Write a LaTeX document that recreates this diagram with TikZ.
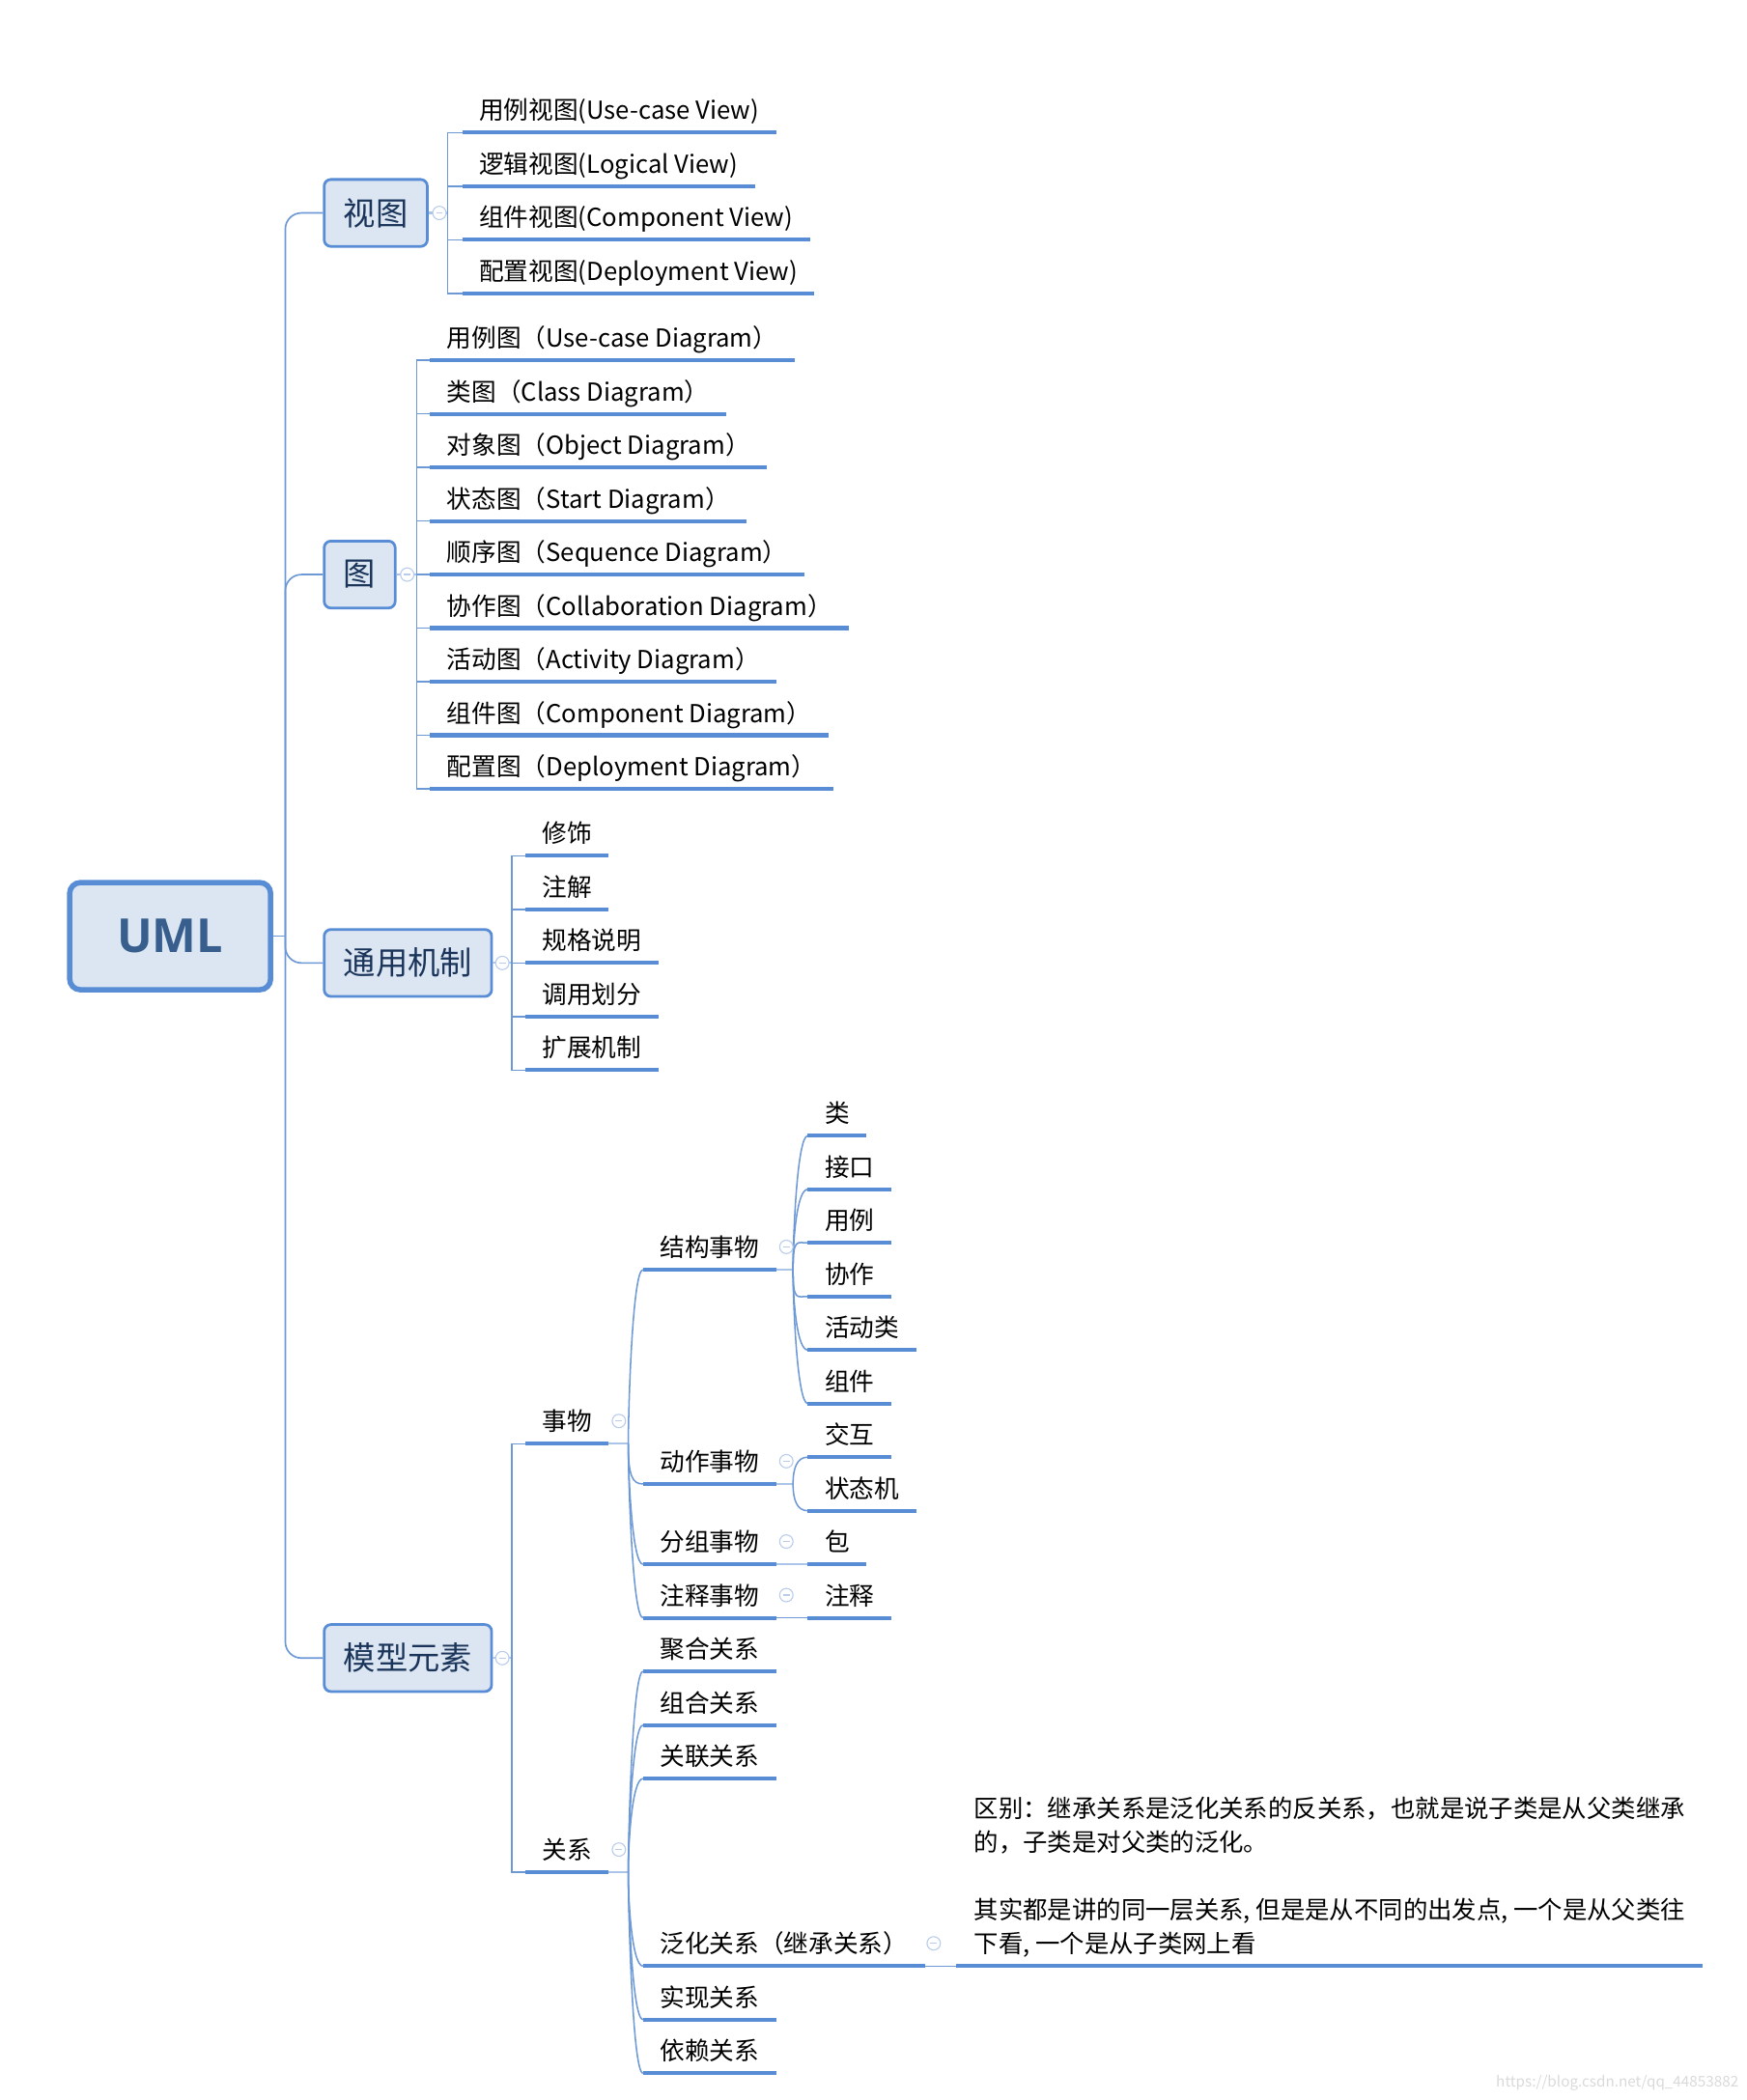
\documentclass[tikz,border=0pt]{standalone}
\usepackage{fontspec}
\setmainfont{Noto Sans CJK SC}
\newfontfamily\umlfont{Open Sans}
\usetikzlibrary{positioning}
\definecolor{lineblue}{RGB}{88,140,212}
\definecolor{twigblue}{RGB}{108,152,214}
\definecolor{stubblue}{RGB}{170,196,234}
\definecolor{boxfill}{RGB}{220,230,242}
\definecolor{boxtext}{RGB}{26,52,90}
\definecolor{umltext}{RGB}{56,94,142}
\definecolor{foldline}{RGB}{186,204,236}
\tikzset{
  root/.style={draw=lineblue, fill=boxfill, line width=4pt, rounded corners=8pt,
    minimum width=150pt, minimum height=80pt, text=umltext,
    font=\umlfont\bfseries\fontsize{35}{42}\selectfont},
  topic/.style={anchor=west, draw=lineblue, fill=boxfill, line width=2pt,
    rounded corners=5pt, minimum height=50pt, inner xsep=14.5pt, text=boxtext,
    font=\fontsize{24}{28}\selectfont},
  leaf/.style={anchor=south west, inner xsep=12.5pt, inner ysep=4.5pt,
    text height=15pt, text depth=5pt, font=\fontsize{18.5}{22}\selectfont},
  uline/.style={draw=lineblue, line width=3pt},
  trunk/.style={draw=twigblue, line width=1.2pt, rounded corners=12pt},
  twig/.style={draw=twigblue, line width=1.1pt},
  stub/.style={draw=stubblue, line width=1.6pt},
  fold/.style={circle, draw=foldline, fill=white, line width=0.8pt,
    minimum size=10pt, inner sep=0pt,
    path picture={\draw[foldline, line width=1pt]
      ([xshift=-2.5pt]path picture bounding box.center) --
      ([xshift=2.5pt]path picture bounding box.center);}},
  note/.style={anchor=south west, align=left, inner xsep=13pt, inner ysep=2pt,
    font=\fontsize{18.3}{25.2}\selectfont},
  wmark/.style={anchor=east, text=black!15, inner sep=0pt,
    font=\fontsize{11}{13}\selectfont}
}
\begin{document}
\begin{tikzpicture}[x=1pt,y=-1pt]
\useasboundingbox (0,0) rectangle (1304,1568);
%
% root and the four topics
\node[root] (uml) at (127,699) {UML};
\node[topic] (view) at (241,159) {视图};
\node[topic] (diag) at (241,429) {图};
\node[topic] (mech) at (241,719) {通用机制};
\node[topic] (model) at (241,1238) {模型元素};
\coordinate (hub) at (213,699);
\draw[trunk] (uml.east) -- (hub);
\foreach \t in {view,diag,mech,model}{
  \draw[trunk] (hub) |- (\t.west);
}
%
% views
\def\viewitems {vuse/99/{用例视图(Use-case View)}, vlog/139/{逻辑视图(Logical View)},
  vcmp/179/{组件视图(Component View)}, vdep/219/{配置视图(Deployment View)}}
\coordinate (vj) at (334,159);
\draw[stub] (view.east) -- (vj);
\foreach \name/\y/\txt in \viewitems{
  \node[leaf] (\name) at (345,\y) {\txt};
  \draw[twig] (vj) |- (\name.south west);
  \draw[uline] (\name.south west) -- (\name.south east);
}
%
% diagrams
\def\diagitems {duse/269/{用例图（Use-case Diagram）}, dcls/309/{类图（Class Diagram）},
  dobj/349/{对象图（Object Diagram）}, dsta/389/{状态图（Start Diagram）},
  dseq/429/{顺序图（Sequence Diagram）}, dcol/469/{协作图（Collaboration Diagram）},
  dact/509/{活动图（Activity Diagram）}, dcmp/549/{组件图（Component Diagram）},
  ddep/589/{配置图（Deployment Diagram）}}
\coordinate (dj) at (311,429);
\draw[stub] (diag.east) -- (dj);
\foreach \name/\y/\txt in \diagitems{
  \node[leaf] (\name) at (321,\y) {\txt};
  \draw[twig] (dj) |- (\name.south west);
  \draw[uline] (\name.south west) -- (\name.south east);
}
%
% common mechanisms
\def\mechitems {madorn/639/修饰, mnote/679/注解, mspec/719/规格说明,
  mdiv/759/调用划分, mext/799/扩展机制}
\coordinate (mj) at (382,719);
\draw[stub] (mech.east) -- (mj);
\foreach \name/\y/\txt in \mechitems{
  \node[leaf] (\name) at (392,\y) {\txt};
  \draw[twig] (mj) |- (\name.south west);
  \draw[uline] (\name.south west) -- (\name.south east);
}
%
% model elements: things and relations
\coordinate (ej) at (382,1238);
\draw[stub] (model.east) -- (ej);
\foreach \name/\y/\txt in {thing/1078/事物, rel/1398/关系}{
  \node[leaf] (\name) at (392,\y) {\txt};
  \draw[twig] (ej) |- (\name.south west);
  \draw[uline] (\name.south west) -- (\name.south east);
}
% kinds of things, curved branches
\coordinate (tj) at (469,1078);
\draw[stub] (thing.south east) -- (tj);
\foreach \name/\y/\txt in {struct/948/结构事物, act/1108/动作事物,
    grp/1168/分组事物, ann/1208/注释事物}{
  \pgfmathsetmacro\dir{\y<1078 ? 90 : -90}
  \node[leaf] (\name) at (480,\y) {\txt};
  \draw[twig] (tj) to[out=\dir, in=180, out distance=24, in distance=8] (\name.south west);
  \draw[uline] (\name.south west) -- (\name.south east);
}
\coordinate (sj) at (592,948);
\draw[stub] (struct.south east) -- (sj);
\foreach \name/\y/\txt in {scls/848/类, sint/888/接口, suse/928/用例,
    scol/968/协作, sact/1008/活动类, scmp/1048/组件}{
  \pgfmathsetmacro\dir{\y<948 ? 90 : -90}
  \node[leaf] (\name) at (603,\y) {\txt};
  \draw[twig] (sj) to[out=\dir, in=180, out distance=24, in distance=8] (\name.south west);
  \draw[uline] (\name.south west) -- (\name.south east);
}
\coordinate (aj) at (592,1108);
\draw[stub] (act.south east) -- (aj);
\foreach \name/\y/\txt in {aint/1088/交互, asm/1128/状态机}{
  \pgfmathsetmacro\dir{\y<1108 ? 90 : -90}
  \node[leaf] (\name) at (603,\y) {\txt};
  \draw[twig] (aj) to[out=\dir, in=180, out distance=12, in distance=8] (\name.south west);
  \draw[uline] (\name.south west) -- (\name.south east);
}
\node[leaf] (pkg) at (603,1168) {包};
\draw[uline] (pkg.south west) -- (pkg.south east);
\draw[stub] (grp.south east) -- (pkg.south west);
\node[leaf] (cmt) at (603,1208) {注释};
\draw[uline] (cmt.south west) -- (cmt.south east);
\draw[twig] (ann.south east) -- (cmt.south west);
% kinds of relations
\coordinate (rj) at (469,1398);
\draw[stub] (rel.south east) -- (rj);
\foreach \name/\y/\txt in {ragg/1248/聚合关系, rcmp/1288/组合关系, rass/1328/关联关系,
    rgen/1468/泛化关系（继承关系）, rrea/1508/实现关系, rdep/1548/依赖关系}{
  \pgfmathsetmacro\dir{\y<1398 ? 90 : -90}
  \node[leaf] (\name) at (480,\y) {\txt};
  \draw[twig] (rj) to[out=\dir, in=180, out distance=24, in distance=8] (\name.south west);
  \draw[uline] (\name.south west) -- (\name.south east);
}
\node[note] (gennote) at (714,1468) {区别：继承关系是泛化关系的反关系，也就是说子类是从父类继承\\
  的，子类是对父类的泛化。\\[25.2pt]
  其实都是讲的同一层关系, 但是是从不同的出发点, 一个是从父类往\\
  下看, 一个是从子类网上看\strut};
\draw[uline] (gennote.south west) -- (gennote.south east);
\draw[twig] (rgen.south east) -- (gennote.south west);
%
% collapse markers
\foreach \name/\x/\y in {fview/328/159, fdiag/304/429, fmech/375/719, fmodel/375/1238,
    fthing/462/1061, frel/462/1381, fstruct/587/931, fact/587/1091,
    fgrp/587/1151, fann/587/1191, fgen/697/1451}{
  \node[fold] (\name) at (\x,\y) {};
}
\node[wmark] (wm) at (1298,1555) {https://blog.csdn.net/qq\_44853882};
\end{tikzpicture}
\end{document}
